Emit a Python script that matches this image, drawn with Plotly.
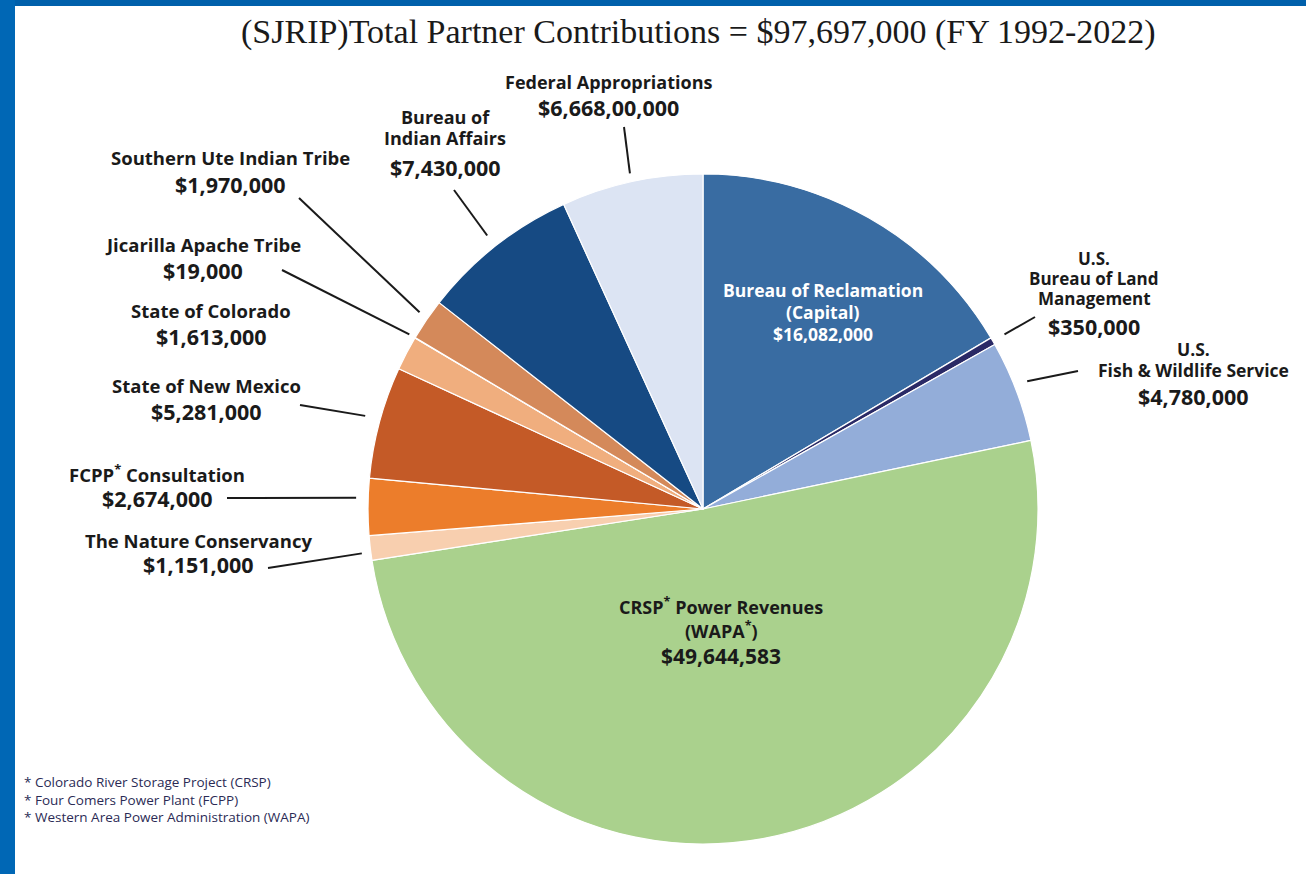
import math
import plotly.graph_objects as go

W, H = 1306, 874

# ---------------- data ----------------
categories = [
    "Bureau of Reclamation (Capital)",
    "U.S. Bureau of Land Management",
    "U.S. Fish & Wildlife Service",
    "CRSP* Power Revenues (WAPA*)",
    "The Nature Conservancy",
    "FCPP* Consultation",
    "State of New Mexico",
    "State of Colorado",
    "Jicarilla Apache Tribe",
    "Southern Ute Indian Tribe",
    "Bureau of Indian Affairs",
    "Federal Appropriations",
]
values = [16082000, 350000, 4780000, 49644583, 1151000, 2674000,
          5281000, 1613000, 19000, 1970000, 7430000, 6668000]
name_lines = [
    ["Bureau of Reclamation", "(Capital)"],
    ["U.S.", "Bureau of Land", "Management"],
    ["U.S.", "Fish & Wildlife Service"],
    ["CRSP<sup>*</sup> Power Revenues", "(WAPA<sup>*</sup>)"],
    ["The Nature Conservancy"],
    ["FCPP<sup>*</sup> Consultation"],
    ["State of New Mexico"],
    ["State of Colorado"],
    ["Jicarilla Apache Tribe"],
    ["Southern Ute Indian Tribe"],
    ["Bureau of", "Indian Affairs"],
    ["Federal Appropriations"],
]
value_labels = ["$16,082,000", "$350,000", "$4,780,000", "$49,644,583", "$1,151,000",
                "$2,674,000", "$5,281,000", "$1,613,000", "$19,000", "$1,970,000",
                "$7,430,000", "$6,668,00,000"]
title_text = "(SJRIP)Total Partner Contributions = $97,697,000 (FY 1992-2022)"
footnotes = ["* Colorado River Storage Project (CRSP)",
             "* Four Comers Power Plant (FCPP)",
             "* Western Area Power Administration (WAPA)"]

# ---------------- style ----------------
colors = ["#396CA2", "#2A2A66", "#93ADD9", "#AAD18D", "#F8CFAF", "#EC7D2B",
          "#C45A27", "#F0AE7E", "#E39A6A", "#D4895A", "#164A83", "#DCE4F3"]
CX, CY, R = 703, 509, 335  # pie centre / radius in px

# label layout: (centre x, [y of each name line], value y, name size, value size, colour)
label_pos = [
    (823, [290, 312], 334, 17.5, 17.5, "white"),
    (1094, [258, 278, 298], 326, 17, 21.5, "#1a1a1a"),
    (1193, [349, 370], 396, 17.5, 21.5, "#1a1a1a"),
    (721, [606, 630], 656, 18, 21, "#1a1a1a"),
    (198, [540], 564, 18.5, 21.5, "#1a1a1a"),
    (157, [473], 498, 18.5, 21.5, "#1a1a1a"),
    (206, [385], 411, 18.5, 21.5, "#1a1a1a"),
    (211, [310], 336, 18.5, 21.5, "#1a1a1a"),
    (203, [244], 270, 18.5, 21.5, "#1a1a1a"),
    (230, [158], 184, 18.5, 21.5, "#1a1a1a"),
    (445, [117, 138], 167, 18, 21.5, "#1a1a1a"),
    (608, [82], 107, 18, 21.5, "#1a1a1a"),
]
# leader lines: index -> (fraction within slice, radius factor, outer end x, outer end y)
leaders = {
    1: (0.5, 1.04, 1035, 317),
    2: (0.45, 1.04, 1078, 371),
    4: (0.33, 1.027, 268, 568),
    5: (0.65, 1.036, 227, 498),
    6: (0.52, 1.046, 300, 405),
    8: (0.5, 1.02, 282, 270),
    9: (0.55, 1.03, 299, 198),
    10: (0.5, 1.04, 454, 190),
    11: (0.5, 1.025, 624, 127),
}

LABEL_FONT = "Open Sans"


def px(x):
    return x / W


def py(y):
    return 1 - y / H


fig = go.Figure(go.Pie(
    labels=categories,
    values=values,
    sort=False,
    direction="clockwise",
    rotation=0,
    marker=dict(colors=colors, line=dict(color="white", width=1.2)),
    textinfo="none",
    hoverinfo="label+value",
    showlegend=False,
    domain=dict(x=[px(CX - R), px(CX + R)], y=[py(CY + R), py(CY - R)]),
))

annotations = []
shapes = []

# frame
shapes.append(dict(type="rect", xref="paper", yref="paper", x0=0, x1=1, y0=py(6), y1=1,
                   fillcolor="#0060AB", line=dict(width=0), layer="above"))
shapes.append(dict(type="rect", xref="paper", yref="paper", x0=0, x1=px(15), y0=0, y1=1,
                   fillcolor="#0067B5", line=dict(width=0), layer="above"))

# title
annotations.append(dict(text=title_text, x=px(698), y=py(32), xref="paper", yref="paper",
                        showarrow=False, xanchor="center", yanchor="middle",
                        font=dict(family="Liberation Serif", size=34, color="#1a1a1a")))

# slice labels
total = sum(values)
cum = 0
for i, v in enumerate(values):
    a0 = cum / total * 360
    a1 = (cum + v) / total * 360
    cum += v
    nx, nys, vy, ns, vs, col = label_pos[i]
    for line_text, ly in zip(name_lines[i], nys):
        annotations.append(dict(text=line_text, x=px(nx), y=py(ly),
                                xref="paper", yref="paper", showarrow=False,
                                xanchor="center", yanchor="middle",
                                font=dict(family=LABEL_FONT, size=ns, color=col, weight=700)))
    annotations.append(dict(text=value_labels[i], x=px(nx), y=py(vy),
                            xref="paper", yref="paper", showarrow=False,
                            xanchor="center", yanchor="middle",
                            font=dict(family=LABEL_FONT, size=vs, color=col, weight=700)))
    if i in leaders:
        frac, rf, ox, oy = leaders[i]
        ang = math.radians(a0 + frac * (a1 - a0))
        ix = CX + R * rf * math.sin(ang)
        iy = CY - R * rf * math.cos(ang)
        shapes.append(dict(type="line", xref="paper", yref="paper",
                           x0=px(ix), y0=py(iy), x1=px(ox), y1=py(oy),
                           line=dict(color="#1a1a1a", width=2)))

# footnotes
for k, t in enumerate(footnotes):
    annotations.append(dict(text=t, x=px(22), y=py(782 + 17.5 * k), xref="paper", yref="paper",
                            showarrow=False, xanchor="left", yanchor="middle",
                            font=dict(family="Open Sans", size=13.5, color="#2b2b55")))

fig.update_layout(
    width=W, height=H,
    margin=dict(l=0, r=0, t=0, b=0),
    paper_bgcolor="white",
    plot_bgcolor="white",
    annotations=annotations,
    shapes=shapes,
)

fig.write_html("out.html", config={"displayModeBar": False},
               post_script="document.body.style.margin='0px';")
